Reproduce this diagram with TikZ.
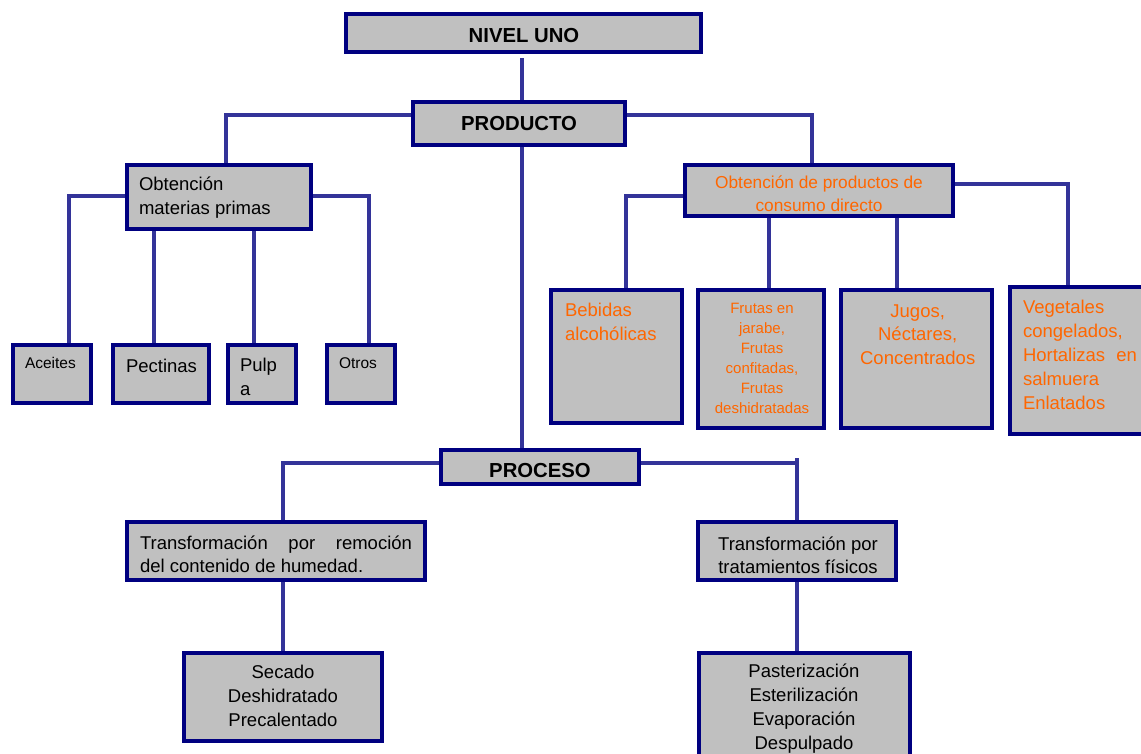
\documentclass[tikz,border=0pt]{standalone}
\usepackage{fontspec}
\setmainfont{Liberation Sans}
\pgfdeclarelayer{links}
\pgfsetlayers{links,main}
\definecolor{boxline}{HTML}{000080}
\definecolor{linkline}{HTML}{333399}
\definecolor{boxfill}{HTML}{C0C0C0}
\definecolor{orangetext}{HTML}{FF6600}
\begin{document}
\begin{tikzpicture}[x=1pt,y=-1pt,
  box/.style={draw=boxline, line width=4pt, fill=boxfill, rectangle,
    inner sep=0pt, outer sep=0pt, anchor=north west},
  conn/.style={draw=linkline, line width=3.4pt},
  lbl/.style={inner sep=0pt, outer sep=0pt, text=black},
  head/.style={lbl, anchor=base, font=\bfseries\fontsize{20.3}{24}\selectfont},
  body/.style={lbl, font=\fontsize{18.5}{23.5}\selectfont},
  small/.style={lbl, anchor=base west, font=\fontsize{15.5}{20}\selectfont},
  orange/.style={text=orangetext}]
\useasboundingbox (0,0) rectangle (1141,753);
\clip (0,0) rectangle (1141,753);

% ---- boxes ----
\node[box, minimum width=355pt, minimum height=38pt] (nivel) at (346,14) {};
\node[box, minimum width=212pt, minimum height=43pt] (prod) at (413,102) {};
\node[box, minimum width=184pt, minimum height=64pt] (obt) at (127,165) {};
\node[box, minimum width=268pt, minimum height=50.5pt] (obd) at (685,165) {};
\node[box, minimum width=78pt, minimum height=58pt] (aceites) at (13,345) {};
\node[box, minimum width=96pt, minimum height=58pt] (pectinas) at (113,345) {};
\node[box, minimum width=68pt, minimum height=58pt] (pulpa) at (228,345) {};
\node[box, minimum width=68pt, minimum height=58pt] (otros) at (327,345) {};
\node[box, minimum width=131pt, minimum height=133pt] (bebidas) at (551,290) {};
\node[box, minimum width=126pt, minimum height=138pt] (frutas) at (698,290) {};
\node[box, minimum width=151pt, minimum height=138pt] (jugos) at (841,290) {};
\node[box, minimum width=160pt, minimum height=147pt] (veget) at (1010,287) {};
\node[box, minimum width=198pt, minimum height=34pt] (proceso) at (441,450) {};
\node[box, minimum width=298pt, minimum height=58pt] (trA) at (127,522) {};
\node[box, minimum width=198pt, minimum height=58pt] (trB) at (698,522) {};
\node[box, minimum width=198pt, minimum height=88pt] (secado) at (184,653) {};
\node[box, minimum width=211pt, minimum height=120pt] (paste) at (699,653) {};

% ---- connectors ----
\begin{pgfonlayer}{links}
\draw[conn] ([xshift=-1.5pt,yshift=-6pt]nivel.south) -- ([xshift=-1.5pt]nivel.south |- prod.north);
\draw[conn] ([yshift=-13pt]prod.north west) -| ([xshift=7pt]obt.north);
\draw[conn] ([yshift=-13pt]prod.north east) -| ([xshift=-7pt]obd.north);
\draw[conn] ([xshift=3pt]prod.south) -- ([xshift=3pt]prod.south |- proceso.north);
\draw[conn] ([yshift=1pt]obt.west) -| ([xshift=17pt]aceites.north);
\draw[conn] ([yshift=1pt]obt.east) -| ([xshift=8pt]otros.north);
\draw[conn] ([xshift=-7pt]pectinas.north) -- ([xshift=-7pt]pectinas.north |- obt.south);
\draw[conn] ([xshift=-8pt,yshift=-3pt]pulpa.north) -- ([xshift=-8pt]pulpa.north |- obt.south);
\draw[conn] ([yshift=-31pt]obd.north west) -| ([xshift=9.5pt]bebidas.north);
\draw[conn] ([yshift=-19pt]obd.north east) -| ([xshift=-22pt]veget.north);
\draw[conn] ([xshift=8pt]frutas.north) -- ([xshift=8pt]frutas.north |- obd.south);
\draw[conn] ([xshift=-19.5pt]jugos.north) -- ([xshift=-19.5pt]jugos.north |- obd.south);
\draw[conn] ([yshift=-13pt]proceso.north west) -| ([xshift=7pt]trA.north);
\draw[conn] ([yshift=-13pt]proceso.north east) -| (trB.north);
\draw[conn] (trB.north) -- ++(0,-64);
\draw[conn] ([xshift=7pt]trA.south) -- (secado.north);
\draw[conn] (trB.south) -- (trB.south |- paste.north);
\end{pgfonlayer}

% ---- labels (multi-line labels sit on the baseline of their last line) ----
\node[head] (t-nivel) at (524,42) {NIVEL UNO};
\node[head] (t-prod) at (519,130) {PRODUCTO};
\node[head] (t-proceso) at (540,477) {PROCESO};

\node[body, anchor=base west, align=left] (t-obt) at (139,214) {Obtención\\materias primas};
\node[small] (t-aceites) at (25,368) {Aceites};
\node[body, anchor=base west] (t-pectinas) at (126,372) {Pectinas};
\node[body, anchor=base west, align=left] (t-pulpa) at (240,395) {Pulp\\a};
\node[small] (t-otros) at (339,368) {Otros};

\node[lbl, orange, anchor=base, align=center, font=\fontsize{17.3}{22.5}\selectfont]
  (t-obd) at (819,211) {Obtención de productos de\\consumo directo};
\node[body, orange, anchor=base west, align=left, font=\fontsize{18.5}{24.5}\selectfont]
  (t-bebidas) at (565,340.5) {Bebidas\\alcohólicas};
\node[lbl, orange, anchor=base, align=center, font=\fontsize{15}{20}\selectfont]
  (t-frutas) at (762,413) {Frutas en\\jarabe,\\Frutas\\confitadas,\\Frutas\\deshidratadas};
\node[body, orange, anchor=base, align=center] (t-jugos) at (917.7,364)
  {Jugos,\\Néctares,\\Concentrados};
\node[body, orange, anchor=base west, align=left, font=\fontsize{18.5}{24}\selectfont]
  (t-veget) at (1023,409)
  {Vegetales\\congelados,\\\makebox[114pt][s]{Hortalizas\hfill en}\\salmuera\\Enlatados};

\node[body, anchor=base west, align=left] (t-trA) at (140,572.5)
  {\makebox[272pt][s]{Transformación\hfill por\hfill remoción}\\del contenido de humedad.};
\node[body, anchor=base, align=center] (t-trB) at (798,573.5)
  {Transformación por\\tratamientos físicos};
\node[body, anchor=base, align=center, font=\fontsize{18.5}{24}\selectfont]
  (t-secado) at (283,726) {Secado\\Deshidratado\\Precalentado};
\node[body, anchor=base, align=center, font=\fontsize{18.5}{24}\selectfont]
  (t-paste) at (804,749) {Pasterización\\Esterilización\\Evaporación\\Despulpado};
\end{tikzpicture}
\end{document}
